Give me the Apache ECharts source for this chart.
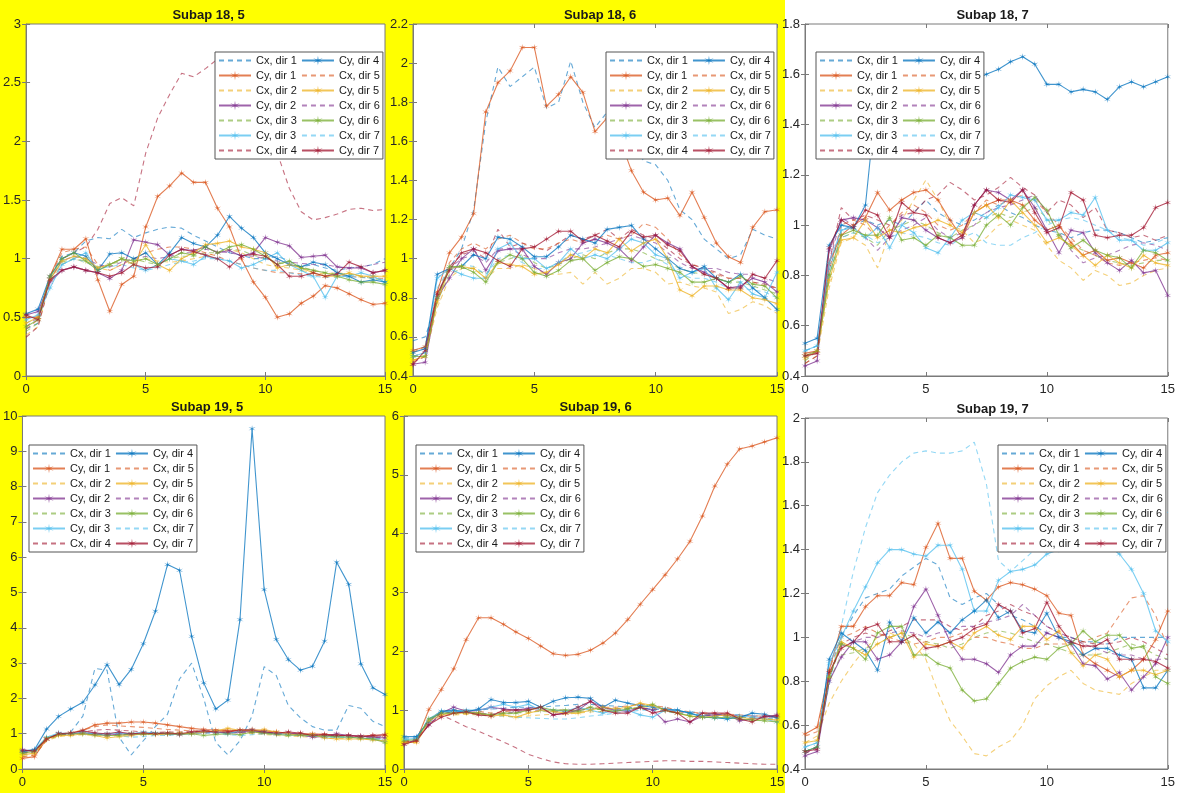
<!DOCTYPE html>
<html>
<head>
<meta charset="utf-8">
<script src="https://cdn.jsdelivr.net/npm/echarts@6/dist/echarts.min.js"></script>
<style>
html,body{margin:0;padding:0;}
#chart{width:1178px;height:793px;background:linear-gradient(to right,#FFFF00 0px,#FFFF00 785px,#ffffff 785px,#ffffff 1178px);}
</style>
</head>
<body>
<div id="chart"></div>
<script>
// ---- data ----
const xs = [0,0.5,1,1.5,2,2.5,3,3.5,4,4.5,5,5.5,6,6.5,7,7.5,8,8.5,9,9.5,10,10.5,11,11.5,12,12.5,13,13.5,14,14.5,15];
const panelTitles = ['Subap 18, 5','Subap 18, 6','Subap 18, 7','Subap 19, 5','Subap 19, 6','Subap 19, 7'];
const dirNames = ['dir 1','dir 2','dir 3','dir 4','dir 5','dir 6','dir 7'];
const yMins = [0, 0.4, 0.4, 0, 0, 0.4];
const yMaxs = [3, 2.2, 1.8, 10, 6, 2];
const ySteps = [0.5, 0.2, 0.2, 1, 1, 0.2];
const xTicks = [0, 5, 10, 15];

// Subap 18, 5
const cx_18_5 = [
 [0.40,0.45,0.85,1.02,1.05,1.15,1.18,1.17,1.25,1.18,1.22,1.25,1.27,1.26,1.20,1.15,1.10,1.05,1.03,1.00,1.00,1.02,0.98,0.93,0.95,0.92,0.90,0.92,0.93,0.95,1.00],
 [0.35,0.42,0.80,0.95,1.00,0.97,0.92,0.90,0.95,0.97,1.00,0.98,0.97,0.98,1.00,1.02,1.05,1.08,1.05,1.00,0.95,0.93,0.92,0.90,0.88,0.87,0.88,0.87,0.85,0.85,0.85],
 [0.38,0.45,0.83,0.97,1.00,0.98,0.93,0.95,0.98,1.00,0.97,0.95,1.00,1.02,1.02,1.05,1.05,1.08,1.07,1.03,1.00,0.97,0.95,0.93,0.90,0.88,0.87,0.87,0.85,0.83,0.82],
 [0.33,0.42,0.80,1.00,1.05,1.10,1.25,1.47,1.52,1.45,1.90,2.20,2.40,2.58,2.55,2.62,2.70,2.75,2.70,2.50,2.20,1.90,1.60,1.40,1.33,1.35,1.38,1.42,1.43,1.41,1.42],
 [0.40,0.48,0.85,1.05,1.08,1.10,0.95,0.90,0.95,1.00,1.05,1.08,1.10,1.10,1.08,1.05,1.02,0.98,0.95,0.92,0.90,0.88,0.88,0.87,0.86,0.85,0.86,0.85,0.84,0.84,0.83],
 [0.42,0.50,0.83,0.98,1.02,1.00,0.95,0.93,0.97,1.00,1.02,1.00,1.02,1.05,1.05,1.08,1.06,1.05,1.03,1.02,1.00,0.98,0.97,0.96,0.95,0.95,0.93,0.92,0.93,0.95,0.97],
 [0.45,0.50,0.80,0.95,1.00,0.97,0.92,0.93,0.95,0.92,0.90,0.92,0.95,0.97,0.98,1.00,1.00,0.98,0.95,0.92,0.90,0.90,0.88,0.86,0.85,0.84,0.85,0.85,0.84,0.83,0.82]
];
const cy_18_5 = [
 [0.50,0.50,0.85,1.08,1.08,1.17,0.82,0.55,0.78,0.85,1.27,1.53,1.62,1.73,1.65,1.65,1.43,1.27,1.00,0.80,0.67,0.50,0.53,0.62,0.68,0.77,0.75,0.70,0.65,0.61,0.62],
 [0.52,0.55,0.80,0.90,0.93,0.90,0.88,0.83,0.90,1.16,1.14,1.12,1.03,1.08,1.07,1.10,1.05,1.07,1.02,1.05,1.18,1.14,1.11,1.01,1.02,1.03,0.93,0.92,0.92,0.88,0.90],
 [0.48,0.52,0.75,0.95,1.00,1.05,0.90,0.95,1.00,0.95,0.90,0.95,1.00,0.98,0.95,1.02,1.00,0.98,0.92,0.95,1.00,1.05,0.95,0.90,0.85,0.67,0.85,0.85,0.88,0.85,0.80],
 [0.53,0.57,0.85,1.00,1.05,1.02,0.90,1.04,1.05,1.00,1.05,0.95,1.05,1.18,1.13,1.10,1.20,1.36,1.26,1.18,1.05,1.00,0.95,0.93,0.97,0.95,0.88,0.85,0.80,0.82,0.80],
 [0.45,0.50,0.82,0.98,1.02,1.00,0.92,0.95,1.00,0.95,1.12,0.95,0.90,1.00,1.05,1.12,1.13,1.15,1.10,1.08,1.05,0.92,0.95,0.92,0.88,0.85,0.85,0.88,0.85,0.85,0.85],
 [0.42,0.48,0.85,1.00,1.05,0.98,0.90,0.95,1.00,0.98,1.00,0.95,1.00,1.05,1.03,1.10,1.05,1.10,1.12,1.08,1.02,0.95,0.98,0.92,0.90,0.88,0.85,0.82,0.80,0.80,0.78],
 [0.52,0.48,0.82,0.90,0.93,0.90,0.88,0.85,0.88,0.95,0.92,0.93,1.03,1.08,1.06,1.03,1.00,0.93,1.02,1.04,1.02,0.95,0.85,0.85,0.88,0.85,0.87,0.97,0.93,0.88,0.90]
];

// Subap 18, 6
const cx_18_6 = [
 [0.58,0.60,0.78,0.95,1.05,1.25,1.70,1.98,1.88,1.93,1.98,1.77,1.80,2.01,1.80,1.67,1.75,1.70,1.60,1.50,1.48,1.40,1.25,1.20,1.10,1.05,1.00,1.02,1.15,1.12,1.10],
 [0.48,0.50,0.75,0.90,0.95,0.95,0.90,0.95,0.95,0.97,0.95,0.92,0.92,0.93,0.87,0.93,0.87,0.90,0.95,0.95,0.93,0.87,0.88,0.86,0.85,0.83,0.72,0.74,0.78,0.76,0.72],
 [0.50,0.52,0.78,0.92,0.95,0.95,0.92,0.98,1.00,1.02,0.98,0.95,0.97,1.00,1.02,1.00,1.03,1.05,1.05,1.03,1.00,0.98,0.95,0.93,0.92,0.90,0.88,0.88,0.86,0.84,0.82],
 [0.47,0.50,0.80,0.96,1.02,1.04,1.00,1.15,1.06,1.08,1.06,1.04,1.08,1.12,1.10,1.12,1.15,1.10,1.15,1.12,1.10,1.05,1.00,0.97,0.95,0.93,0.90,0.90,0.88,0.87,0.85],
 [0.52,0.55,0.80,0.98,1.05,1.08,1.05,1.10,1.12,1.08,1.05,1.05,1.08,1.10,1.08,1.10,1.12,1.10,1.12,1.18,1.16,1.10,1.02,0.97,0.95,0.92,0.90,0.90,0.88,0.86,0.85],
 [0.50,0.52,0.82,0.95,1.00,1.02,0.98,1.05,1.05,1.02,1.00,1.00,1.03,1.05,1.05,1.06,1.08,1.10,1.12,1.10,1.08,1.03,0.98,0.95,0.95,0.95,0.93,0.92,0.92,0.90,0.88],
 [0.53,0.55,0.85,0.95,0.97,0.96,0.92,1.00,1.02,0.98,0.95,0.95,0.98,1.02,1.03,1.05,1.02,1.00,0.98,0.98,1.00,0.97,0.92,0.90,0.90,0.88,0.85,0.85,0.84,0.83,0.80]
];
const cy_18_6 = [
 [0.53,0.55,0.83,1.03,1.11,1.23,1.75,1.90,1.96,2.08,2.08,1.78,1.84,1.93,1.85,1.65,1.72,1.62,1.45,1.34,1.30,1.31,1.22,1.34,1.21,1.08,1.01,0.98,1.16,1.24,1.25],
 [0.46,0.47,0.80,0.90,1.00,1.05,0.94,1.04,1.05,1.05,0.96,0.92,0.98,1.00,1.08,1.10,1.08,1.05,0.99,1.06,1.12,1.08,1.05,0.96,0.93,0.90,0.85,0.86,0.90,0.88,0.83],
 [0.50,0.52,0.90,0.95,0.92,0.90,0.90,1.05,1.08,1.00,1.00,0.95,0.98,1.05,1.00,1.02,1.00,1.05,1.10,1.08,1.02,1.00,0.90,0.93,0.95,0.85,0.79,0.88,0.82,0.80,0.93],
 [0.52,0.54,0.92,0.95,0.96,1.02,1.00,1.11,1.10,1.06,1.01,1.01,1.06,1.12,1.10,1.08,1.15,1.16,1.17,1.10,1.05,1.00,0.95,0.93,0.96,0.90,0.88,0.92,0.85,0.80,0.74],
 [0.48,0.50,0.78,0.95,0.96,0.95,0.90,0.98,0.97,0.96,0.92,0.93,0.97,1.02,1.00,1.05,1.03,1.10,1.04,1.08,1.10,1.00,0.84,0.81,0.86,0.86,0.84,0.84,0.80,0.79,0.77],
 [0.50,0.50,0.80,0.96,0.96,0.93,0.88,0.98,1.02,1.00,0.93,0.91,0.94,0.99,1.00,0.94,0.98,1.01,1.00,0.96,0.97,0.95,0.93,0.88,0.88,0.90,0.88,0.91,0.87,0.86,0.80],
 [0.46,0.53,0.82,0.94,1.03,1.05,1.03,0.99,0.96,1.05,1.06,1.10,1.14,1.14,1.09,1.12,1.09,1.06,1.14,1.11,1.12,1.07,1.04,0.96,0.92,0.90,0.85,0.85,0.92,0.90,0.99]
];

// Subap 18, 7
const cx_18_7 = [
 [0.50,0.52,0.82,0.98,1.00,1.02,1.00,1.02,1.00,1.05,1.10,1.05,1.02,1.00,1.02,1.05,1.08,1.05,1.03,1.00,0.98,0.97,0.95,0.97,0.98,0.98,0.97,0.95,0.93,0.94,0.95],
 [0.45,0.48,0.75,0.93,0.95,0.92,0.83,0.97,1.02,1.10,1.18,1.10,1.00,0.98,0.93,0.95,1.00,1.02,1.00,0.98,0.92,0.86,0.83,0.78,0.82,0.80,0.76,0.77,0.80,0.82,0.83],
 [0.46,0.50,0.78,0.95,0.97,0.95,0.92,0.98,1.00,1.02,1.00,0.97,0.95,0.98,1.00,1.03,1.05,1.03,1.05,1.07,1.03,0.95,0.92,0.90,0.88,0.86,0.85,0.84,0.85,0.86,0.86],
 [0.45,0.48,0.85,1.07,1.02,1.04,1.02,1.00,1.04,1.05,1.10,1.12,1.17,1.14,1.10,1.12,1.15,1.19,1.15,1.12,1.05,1.10,1.08,1.03,1.07,0.98,0.97,0.95,0.96,0.94,0.96],
 [0.48,0.50,0.82,1.00,1.02,1.00,0.95,1.00,1.05,1.08,1.05,1.00,0.98,1.00,1.05,1.10,1.08,1.10,1.12,1.10,1.05,1.00,0.95,0.90,0.88,0.85,0.84,0.85,0.86,0.87,0.86],
 [0.47,0.50,0.85,1.03,1.00,0.95,0.90,0.95,0.98,1.00,1.03,0.98,0.95,0.97,1.00,1.05,1.07,1.08,1.10,1.12,1.05,0.97,0.90,0.85,0.87,0.88,0.90,0.92,0.93,0.92,0.90],
 [0.50,0.52,0.80,0.95,0.97,0.96,0.93,0.95,0.97,0.96,0.95,0.93,0.92,0.95,0.97,0.93,0.92,0.92,0.95,0.97,1.00,1.02,1.03,1.02,1.00,0.98,0.95,0.94,0.92,0.93,0.95]
];
const cy_18_7 = [
 [0.49,0.50,0.85,0.96,1.00,1.03,1.13,1.06,1.10,1.13,1.14,1.10,1.02,0.95,1.05,1.08,1.10,1.10,1.08,1.02,0.98,1.00,0.93,0.88,0.90,0.86,0.87,0.85,0.83,0.88,0.89],
 [0.44,0.46,0.90,1.02,1.03,1.02,0.99,0.95,1.03,1.02,0.98,0.95,0.93,0.95,1.08,1.14,1.13,1.10,1.14,1.07,0.98,0.89,0.98,0.97,0.89,0.85,0.82,0.86,0.81,0.82,0.72],
 [0.50,0.52,0.85,0.98,0.99,0.95,0.99,0.91,1.00,0.97,0.91,0.89,0.95,1.02,1.05,1.03,1.07,1.12,1.11,1.10,1.02,1.02,1.05,1.04,1.11,0.98,0.94,0.94,0.90,0.90,0.93],
 [0.53,0.55,0.92,1.00,0.99,1.08,1.55,1.57,1.58,1.60,1.58,1.57,1.60,1.58,1.58,1.60,1.62,1.65,1.67,1.64,1.56,1.56,1.53,1.54,1.53,1.50,1.55,1.57,1.55,1.57,1.59],
 [0.47,0.50,0.78,0.94,0.95,1.02,0.95,0.98,0.97,0.99,1.00,1.02,1.00,0.97,1.05,1.08,1.03,1.10,1.05,1.00,0.93,0.95,0.92,0.88,0.84,0.88,0.85,0.83,0.88,0.85,0.84],
 [0.48,0.50,0.80,0.96,0.98,0.96,0.96,1.03,0.94,0.95,0.92,0.96,0.95,0.92,0.92,1.00,1.04,1.00,1.07,1.11,1.06,0.96,0.91,0.94,0.90,0.88,0.87,0.83,0.90,0.89,0.86],
 [0.48,0.49,0.91,1.02,0.99,1.06,1.04,0.95,1.09,1.05,1.04,0.95,0.93,0.96,1.08,1.14,1.10,1.09,1.14,1.05,0.97,0.99,1.13,1.10,0.96,0.95,0.96,0.96,0.99,1.07,1.09]
];

// Subap 19, 5
const cx_19_5 = [
 [0.45,0.50,0.85,0.95,1.05,1.50,2.85,2.80,0.90,0.40,0.80,1.20,1.55,2.55,3.00,2.00,0.75,0.40,0.80,1.50,2.90,2.65,1.80,1.45,1.20,1.10,1.10,1.80,1.72,1.35,1.20],
 [0.35,0.40,0.80,0.92,0.95,0.97,0.95,0.92,0.95,0.97,1.00,0.98,0.97,1.00,1.02,1.03,1.05,1.05,1.02,1.00,0.98,0.95,0.93,0.92,0.90,0.88,0.87,0.86,0.85,0.84,0.83],
 [0.40,0.45,0.82,0.95,0.98,1.00,0.98,0.97,0.98,1.00,1.00,1.02,1.02,1.03,1.03,1.05,1.05,1.03,1.03,1.02,1.00,0.98,0.97,0.95,0.93,0.92,0.90,0.90,0.88,0.87,0.86],
 [0.45,0.48,0.85,0.97,1.00,1.05,1.10,1.12,1.10,1.08,1.05,1.03,1.05,1.05,1.07,1.08,1.10,1.10,1.08,1.05,1.03,1.00,1.00,0.98,0.97,0.95,0.95,0.93,0.92,0.90,0.90],
 [0.35,0.40,0.82,0.98,1.02,1.10,1.20,1.25,1.22,1.20,1.18,1.15,1.12,1.10,1.08,1.07,1.05,1.05,1.05,1.05,1.03,1.00,1.00,0.98,0.97,0.95,0.95,0.93,0.92,0.92,0.90],
 [0.48,0.50,0.85,0.98,1.00,1.00,1.00,0.98,1.00,1.00,1.02,1.02,1.00,1.00,1.02,1.03,1.03,1.02,1.03,1.05,1.03,1.02,1.00,0.98,0.97,0.96,0.95,0.95,0.93,0.93,0.92],
 [0.50,0.52,0.88,1.00,1.02,1.05,1.00,0.98,0.95,0.90,0.92,0.95,0.95,0.98,1.00,1.02,1.00,0.97,0.95,0.97,1.00,1.00,0.97,0.95,0.93,0.92,0.90,0.90,0.88,0.87,0.85]
];
const cy_19_5 = [
 [0.30,0.35,0.85,1.00,1.02,1.10,1.25,1.30,1.30,1.33,1.33,1.30,1.25,1.20,1.15,1.12,1.10,1.08,1.10,1.12,1.08,1.05,1.02,1.00,1.00,0.98,0.97,0.95,0.93,0.95,0.97],
 [0.55,0.50,0.85,1.00,1.00,1.02,1.00,0.95,1.00,0.98,1.00,1.00,1.00,0.97,1.02,1.05,1.05,1.02,1.05,1.08,1.05,1.00,1.02,0.98,0.90,0.92,1.00,0.95,0.93,0.90,0.88],
 [0.50,0.55,0.90,1.02,1.00,1.05,0.98,1.00,1.02,1.00,1.05,1.02,1.00,1.00,1.00,1.05,1.05,1.00,1.08,1.10,1.05,1.00,0.98,0.95,0.95,0.90,0.92,0.90,0.88,0.85,0.80],
 [0.50,0.55,1.13,1.49,1.70,1.89,2.38,2.96,2.39,2.82,3.55,4.47,5.79,5.63,3.76,2.44,1.70,1.95,4.23,9.64,5.08,3.67,3.10,2.80,2.91,3.62,5.86,5.23,2.98,2.30,2.11],
 [0.40,0.45,0.85,0.95,0.95,1.00,0.95,0.88,0.92,0.95,1.00,0.98,1.00,1.02,1.00,1.05,1.08,1.15,1.10,1.08,1.12,1.05,1.00,0.95,0.98,0.88,0.85,0.85,0.85,0.82,0.80],
 [0.45,0.50,0.88,0.98,1.00,1.00,0.97,0.95,0.95,1.00,0.98,1.00,1.00,0.98,1.00,0.95,0.98,1.00,0.97,1.05,1.02,0.98,0.95,0.97,0.95,0.93,0.92,0.90,0.88,0.85,0.75],
 [0.52,0.52,0.85,1.00,1.02,1.08,1.02,1.00,1.05,1.00,1.02,1.00,1.02,1.00,1.05,1.08,1.05,1.05,1.10,1.10,1.05,1.02,1.05,1.02,0.95,0.98,0.95,0.95,0.92,0.95,0.97]
];

// Subap 19, 6
const cx_19_6 = [
 [0.52,0.55,0.85,0.95,0.97,0.98,1.00,1.02,1.03,1.05,1.05,1.05,1.07,1.08,1.10,1.10,1.08,1.07,1.05,1.03,1.02,1.00,0.98,0.97,0.95,0.93,0.92,0.92,0.90,0.90,0.88],
 [0.42,0.45,0.78,0.90,0.92,0.93,0.92,0.90,0.90,0.88,0.90,0.92,0.93,0.93,0.95,0.97,0.98,1.00,1.02,1.05,1.03,1.00,0.97,0.95,0.93,0.92,0.90,0.88,0.87,0.85,0.83],
 [0.45,0.48,0.82,0.95,0.95,0.95,0.93,0.92,0.93,0.95,0.97,0.98,0.97,0.95,0.97,1.00,1.02,1.03,1.03,1.02,1.00,0.98,0.95,0.93,0.92,0.90,0.90,0.88,0.87,0.86,0.85],
 [0.45,0.50,0.75,0.92,0.82,0.72,0.64,0.55,0.46,0.36,0.25,0.18,0.12,0.09,0.08,0.08,0.09,0.10,0.11,0.12,0.13,0.14,0.14,0.13,0.13,0.12,0.11,0.10,0.09,0.08,0.08],
 [0.45,0.48,0.85,0.98,1.00,1.00,0.98,0.95,0.97,1.00,1.02,1.03,1.00,1.00,1.02,1.05,1.05,1.05,1.07,1.10,1.08,1.05,1.00,0.97,0.95,0.95,0.93,0.92,0.90,0.90,0.88],
 [0.48,0.50,0.82,0.95,0.97,0.97,0.95,0.93,0.95,0.97,1.00,1.00,0.98,0.97,1.00,1.02,1.03,1.02,1.02,1.03,1.02,1.00,0.98,0.95,0.93,0.92,0.92,0.90,0.90,0.88,0.88],
 [0.50,0.52,0.85,0.97,0.98,0.97,0.93,0.90,0.90,0.88,0.87,0.86,0.85,0.85,0.87,0.90,0.92,0.95,0.97,1.00,1.00,0.98,0.95,0.93,0.92,0.90,0.90,0.88,0.87,0.86,0.85]
];
const cy_19_6 = [
 [0.45,0.48,1.01,1.35,1.70,2.20,2.57,2.57,2.46,2.33,2.22,2.09,1.96,1.93,1.95,2.02,2.14,2.31,2.54,2.80,3.05,3.30,3.57,3.87,4.30,4.81,5.18,5.44,5.49,5.56,5.63],
 [0.42,0.50,0.75,0.95,1.05,0.98,1.00,1.05,1.02,1.00,1.03,1.05,0.92,0.95,1.00,1.15,1.05,1.00,0.98,1.05,1.00,0.80,0.85,0.80,0.90,0.92,0.92,0.82,0.85,0.88,0.92],
 [0.50,0.52,0.85,0.98,0.98,1.00,1.00,1.05,1.10,1.05,1.10,1.00,1.00,0.98,1.05,1.00,0.95,1.00,1.00,0.92,0.88,1.00,1.00,0.95,0.90,0.88,0.85,0.90,0.88,0.85,0.80],
 [0.55,0.55,0.80,0.98,1.00,0.97,1.02,1.18,1.13,1.13,1.15,1.05,1.15,1.21,1.22,1.20,1.05,1.17,1.12,1.08,1.05,1.02,1.00,0.95,0.88,0.87,0.85,0.88,0.95,0.93,0.87],
 [0.45,0.45,0.82,0.92,0.95,0.95,0.95,0.90,0.92,0.88,0.95,1.00,0.98,0.95,0.95,1.00,1.05,1.02,1.05,1.12,1.08,1.00,0.95,0.90,0.88,0.90,0.92,0.88,0.85,0.85,0.83],
 [0.48,0.50,0.85,0.95,0.95,0.97,0.95,0.92,0.95,0.95,1.00,1.05,1.00,1.00,0.98,1.05,1.00,0.98,1.02,1.05,1.10,1.00,0.95,0.90,0.88,0.87,0.88,0.85,0.83,0.82,0.80],
 [0.42,0.48,0.75,0.88,0.95,0.97,0.92,0.90,1.00,1.00,1.00,1.05,0.92,0.95,1.05,1.15,1.00,0.95,0.95,1.05,0.95,1.00,0.95,0.80,0.95,0.95,0.95,0.85,0.80,0.90,0.90]
];

// Subap 19, 7
const cx_19_7 = [
 [0.48,0.50,0.80,1.00,1.10,1.18,1.20,1.22,1.28,1.32,1.36,1.33,1.18,1.15,1.18,1.20,1.15,1.10,1.08,1.05,1.02,1.00,1.00,0.98,0.98,0.97,1.00,1.00,1.00,1.00,1.00],
 [0.52,0.55,0.70,0.80,0.88,0.95,1.00,1.02,1.00,0.97,0.90,0.75,0.62,0.55,0.47,0.46,0.50,0.53,0.60,0.72,0.78,0.82,0.85,0.79,0.76,0.75,0.74,0.79,0.82,0.85,0.85],
 [0.48,0.50,0.80,0.92,0.93,0.95,0.97,1.00,1.02,1.00,0.98,0.97,0.95,0.97,1.00,1.02,1.03,1.02,1.00,0.98,0.97,0.95,0.93,0.92,0.92,0.93,0.95,0.97,0.95,0.92,0.90],
 [0.47,0.50,0.82,0.97,1.00,1.02,1.00,1.03,1.05,1.08,1.08,1.08,1.05,1.03,1.05,1.10,1.12,1.15,1.12,1.10,1.05,1.02,1.00,0.98,0.97,0.97,0.98,1.00,0.98,0.95,0.92],
 [0.55,0.57,0.85,1.00,1.02,1.05,1.02,1.00,0.98,0.97,0.98,1.00,1.00,1.02,1.00,1.00,0.98,0.97,0.95,0.95,0.97,0.97,0.97,0.98,1.00,1.02,1.10,1.18,1.19,1.10,0.95],
 [0.47,0.50,0.82,0.96,0.98,1.00,1.00,1.02,1.03,1.02,1.00,1.02,1.03,1.05,1.05,1.07,1.08,1.10,1.15,1.10,1.05,1.02,1.00,0.97,0.95,0.93,0.92,0.92,0.90,0.90,0.90],
 [0.50,0.52,0.78,1.05,1.30,1.50,1.66,1.74,1.80,1.84,1.85,1.84,1.84,1.85,1.89,1.70,1.35,1.30,1.35,1.40,1.45,1.50,1.52,1.55,1.55,1.56,1.57,1.57,1.57,1.57,1.57]
];
const cy_19_7 = [
 [0.56,0.59,0.85,1.05,1.05,1.14,1.19,1.19,1.25,1.24,1.41,1.52,1.36,1.36,1.21,1.17,1.23,1.25,1.24,1.22,1.19,1.11,1.10,0.92,0.88,0.85,0.82,0.85,0.90,0.99,1.12],
 [0.46,0.48,0.80,0.91,0.98,0.98,0.90,0.92,0.98,1.14,1.22,1.10,0.98,0.90,0.90,0.88,0.84,0.92,0.96,0.96,1.02,1.00,0.97,0.88,0.87,0.81,0.84,0.76,0.82,0.88,1.00],
 [0.50,0.52,0.88,1.00,1.12,1.23,1.34,1.40,1.40,1.38,1.37,1.42,1.42,1.31,1.12,1.12,1.26,1.30,1.31,1.33,1.38,1.40,1.42,1.45,1.45,1.42,1.38,1.31,1.20,1.03,0.98],
 [0.48,0.50,0.90,1.02,0.98,0.94,0.85,1.07,0.98,1.09,1.02,1.07,1.02,1.08,1.12,1.17,1.09,1.12,1.03,1.02,1.11,1.00,0.98,0.92,0.95,0.95,0.92,0.90,0.77,0.77,0.85],
 [0.52,0.53,0.82,0.98,0.95,0.92,0.97,1.00,1.02,0.91,0.97,0.96,0.98,0.95,1.02,1.05,1.01,0.99,1.05,1.05,0.99,1.03,0.93,0.87,0.92,0.90,0.82,0.85,0.85,0.83,0.85],
 [0.48,0.50,0.82,0.97,0.95,0.90,1.02,1.05,1.05,0.92,0.92,0.88,0.86,0.76,0.71,0.72,0.79,0.86,0.89,0.91,0.90,0.95,0.97,1.03,0.98,1.01,1.01,0.95,0.96,0.82,0.79],
 [0.48,0.49,0.84,0.95,0.98,1.04,1.06,0.98,0.98,1.01,0.95,0.96,0.98,1.00,1.04,1.06,1.15,1.12,1.02,1.04,1.16,1.05,0.98,0.96,0.96,0.99,0.90,0.90,0.90,0.89,0.86]
];

const cxPanels = [cx_18_5, cx_18_6, cx_18_7, cx_19_5, cx_19_6, cx_19_7];
const cyPanels = [cy_18_5, cy_18_6, cy_18_7, cy_19_5, cy_19_6, cy_19_7];

// ---- layout / style ----
const gridBoxes = [
  {left: 22, top: 24, width: 363, height: 352},
  {left: 413, top: 24, width: 364, height: 352},
  {left: 805, top: 24, width: 365, height: 352},
  {left: 19, top: 416, width: 366, height: 353},
  {left: 404, top: 416, width: 373, height: 353},
  {left: 805, top: 418, width: 365, height: 351}
];
const legendPos = [
  {left: 215, top: 52}, {left: 606, top: 52}, {left: 816, top: 52},
  {left: 29, top: 445}, {left: 416, top: 445}, {left: 998, top: 445}
];
const mColors = ['#0072BD','#D95319','#EDB120','#7E2F8E','#77AC30','#4DBEEE','#A2142F'];
const FONT = 'Liberation Sans, Arial, Helvetica, sans-serif';
const STAR = 'path://M0,-10L1.2,-1.8L8.66,-5L2.2,0L8.66,5L1.2,1.8L0,10L-1.2,1.8L-8.66,5L-2.2,0L-8.66,-5L-1.2,-1.8Z';

const legendData = [];
for (let d = 0; d < 7; d++) {
  legendData.push({name: 'Cx, ' + dirNames[d], itemStyle: {opacity: 0}});
  legendData.push({name: 'Cy, ' + dirNames[d]});
}

const grids = [], xAxes = [], yAxes = [], titles = [], legends = [], series = [];
const axisGray = '#7a7a7a';
function tickStyle() { return {show: true, inside: true, length: 4, lineStyle: {color: axisGray}}; }
for (let p = 0; p < 6; p++) {
  const g = gridBoxes[p];
  grids.push(Object.assign({show: true, backgroundColor: '#ffffff', borderColor: axisGray, borderWidth: 1, containLabel: false}, g));
  xAxes.push({
    gridIndex: p, type: 'value', position: 'bottom', min: xTicks[0], max: xTicks[xTicks.length - 1], interval: 5,
    axisLine: {show: true, onZero: false, lineStyle: {color: axisGray, width: 1}},
    axisTick: tickStyle(),
    axisLabel: {color: '#262626', fontSize: 13, fontFamily: FONT, margin: 7},
    splitLine: {show: false}
  });
  yAxes.push({
    gridIndex: p, type: 'value', position: 'left', min: yMins[p], max: yMaxs[p], interval: ySteps[p],
    axisLine: {show: true, onZero: false, lineStyle: {color: axisGray, width: 1}},
    axisTick: tickStyle(),
    axisLabel: {color: '#262626', fontSize: 13, fontFamily: FONT, margin: 5},
    splitLine: {show: false}
  });
  titles.push({
    text: panelTitles[p], left: g.left + g.width / 2, top: g.top - 20, textAlign: 'center',
    textStyle: {fontSize: 13, fontWeight: 'bold', color: '#1a1a1a', fontFamily: FONT}
  });
  legends.push({
    left: legendPos[p].left, top: legendPos[p].top, orient: 'vertical', height: 110,
    itemWidth: 32, itemHeight: 12, itemGap: 4, padding: [3, 3, 3, 3],
    backgroundColor: '#ffffff', borderColor: '#555555', borderWidth: 1,
    selectedMode: false, data: legendData.map(o => Object.assign({}, o)),
    textStyle: {fontSize: 11, color: '#1a1a1a', fontFamily: FONT}
  });
  for (let d = 0; d < 7; d++) {
    const cxc = mColors[(2 * d) % 7];
    const cyc = mColors[(2 * d + 1) % 7];
    series.push({
      name: 'Cx, ' + dirNames[d], type: 'line', xAxisIndex: p, yAxisIndex: p,
      data: xs.map((x, i) => [x, cxPanels[p][d][i]]),
      symbol: 'none', smooth: false, z: 2,
      lineStyle: {color: cxc, width: 1.1, type: [5, 4], opacity: 0.6},
      itemStyle: {color: cxc, opacity: 0.6}
    });
    series.push({
      name: 'Cy, ' + dirNames[d], type: 'line', xAxisIndex: p, yAxisIndex: p,
      data: xs.map((x, i) => [x, cyPanels[p][d][i]]),
      symbol: STAR, symbolSize: 7, showSymbol: true, z: 3,
      lineStyle: {color: cyc, width: 1.1, opacity: 0.75},
      itemStyle: {color: cyc, opacity: 0.75}
    });
  }
}
// mirrored ticks on top and right edges (MATLAB box style)
for (let p = 0; p < 6; p++) {
  xAxes.push({
    gridIndex: p, type: 'value', position: 'top', min: xTicks[0], max: xTicks[xTicks.length - 1], interval: 5,
    axisLine: {show: false}, axisTick: tickStyle(), axisLabel: {show: false}, splitLine: {show: false}
  });
  yAxes.push({
    gridIndex: p, type: 'value', position: 'right', min: yMins[p], max: yMaxs[p], interval: ySteps[p],
    axisLine: {show: false}, axisTick: tickStyle(), axisLabel: {show: false}, splitLine: {show: false}
  });
}

const chart = echarts.init(document.getElementById('chart'), null, {renderer: 'canvas'});
chart.setOption({
  animation: false,
  backgroundColor: 'transparent',
  title: titles, grid: grids, xAxis: xAxes, yAxis: yAxes, legend: legends, series: series,
  tooltip: {show: false}
});
</script>
</body>
</html>
